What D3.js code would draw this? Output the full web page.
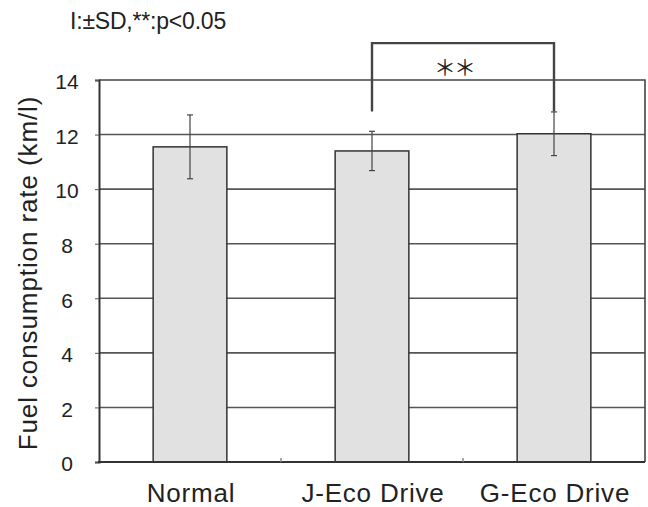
<!DOCTYPE html>
<html>
<head>
<meta charset="utf-8">
<script src="https://cdn.jsdelivr.net/npm/d3@7"></script>
<style>
  body { margin: 0; background: #fff; }
  text { font-family: "Liberation Sans", Arial, sans-serif; fill: #222; }
</style>
</head>
<body>
<div id="chart"></div>
<script>
// Data
const categories = ["Normal", "J-Eco Drive", "G-Eco Drive"];
const means = [11.55, 11.4, 12.03];
const sds = [1.17, 0.72, 0.8];
const yTicks = [0, 2, 4, 6, 8, 10, 12, 14];
const sigPair = ["J-Eco Drive", "G-Eco Drive"];
const sigLabel = "＊＊";
const sigTop = 15.35;   // bracket height in km/l units
const sigEnd = 12.85;   // where the bracket legs stop
const noteText = "I:±SD,**:p<0.05";
const yTitle = "Fuel consumption rate (km/l)";

const width = 648;
const height = 507;
const margin = {top: 80, left: 99, right: 3, bottom: 45};

const svg = d3.select("#chart")
  .append("svg")
    .attr("width", width)
    .attr("height", height);

// Scales
const xScale = d3.scaleBand()
  .domain(categories)
  .range([margin.left, width - margin.right])
  .padding(0);
const yScale = d3.scaleLinear()
  .domain([0, 14])
  .range([height - margin.bottom, margin.top]);

const barWidth = xScale.bandwidth() * 0.405;
const x0 = margin.left, x1 = width - margin.right;

// Grid lines (behind bars)
svg.append("g")
  .selectAll("line")
  .data(yTicks.filter(t => t > 0 && t < 14))
  .join("line")
    .attr("x1", x0)
    .attr("x2", x1)
    .attr("y1", d => yScale(d))
    .attr("y2", d => yScale(d))
    .attr("stroke", "#555")
    .attr("stroke-width", 1.6);

// Frame: top + right
svg.append("path")
  .attr("d", `M${x0},${yScale(14)}H${x1}V${yScale(0)}`)
  .attr("fill", "none")
  .attr("stroke", "#444")
  .attr("stroke-width", 1.6);

// Bars
const data = categories.map((c, i) => ({cat: c, mean: means[i], sd: sds[i]}));
svg.append("g")
  .selectAll("rect")
  .data(data)
  .join("rect")
    .attr("x", d => xScale(d.cat) + xScale.bandwidth() / 2 - barWidth / 2)
    .attr("y", d => yScale(d.mean))
    .attr("width", barWidth)
    .attr("height", d => yScale(0) - yScale(d.mean))
    .attr("fill", "#e1e1e1")
    .attr("stroke", "#333")
    .attr("stroke-width", 1.5);

// Error bars
const err = svg.append("g")
  .attr("stroke", "#444")
  .attr("stroke-width", 1.2);
data.forEach(d => {
  const cx = xScale(d.cat) + xScale.bandwidth() / 2;
  err.append("line")
    .attr("x1", cx).attr("x2", cx)
    .attr("y1", yScale(d.mean + d.sd))
    .attr("y2", yScale(d.mean - d.sd));
  [d.mean + d.sd, d.mean - d.sd].forEach(v => {
    err.append("line")
      .attr("x1", cx - 3).attr("x2", cx + 3)
      .attr("y1", yScale(v)).attr("y2", yScale(v));
  });
});

// Axes: left and bottom
const leftAxis = d3.axisLeft(yScale)
  .tickValues(yTicks)
  .tickSize(4)
  .tickPadding(28);
svg.append("g")
  .attr("class", "axis-y")
  .attr("transform", `translate(${x0},0)`)
  .call(leftAxis)
  .call(g => g.select(".domain").attr("stroke", "#333").attr("stroke-width", 2))
  .call(g => g.selectAll(".tick line").attr("stroke", "#555"))
  .call(g => g.selectAll(".tick text")
    .attr("text-anchor", "middle")
    .attr("dy", "0.42em")
    .style("font-size", "21px")
    .attr("fill", "#222"));

svg.append("line")
  .attr("x1", x0 - 1).attr("x2", x1)
  .attr("y1", yScale(0)).attr("y2", yScale(0))
  .attr("stroke", "#333")
  .attr("stroke-width", 2);

// Small category-boundary ticks
svg.append("g")
  .selectAll("line")
  .data(categories.slice(1))
  .join("line")
    .attr("x1", d => xScale(d))
    .attr("x2", d => xScale(d))
    .attr("y1", yScale(0))
    .attr("y2", yScale(0) - 4)
    .attr("stroke", "#888")
    .attr("stroke-width", 1.5);

// Category labels
svg.append("g")
  .selectAll("text")
  .data(categories)
  .join("text")
    .attr("x", d => xScale(d) + xScale.bandwidth() / 2 + 1)
    .attr("y", 502)
    .attr("text-anchor", "middle")
    .style("font-size", "26px")
    .style("letter-spacing", "0.8px")
    .text(d => d);

// Y axis title
svg.append("text")
  .attr("transform", `translate(37,${(yScale(0) + yScale(14)) / 2 + 2}) rotate(-90)`)
  .attr("text-anchor", "middle")
  .style("font-size", "26px")
  .style("letter-spacing", "0.9px")
  .text(yTitle);

// Note at the top
svg.append("text")
  .attr("x", 70)
  .attr("y", 29)
  .style("font-size", "23px")
  .style("letter-spacing", "-0.2px")
  .text(noteText);

// Significance bracket
const sx1 = xScale(sigPair[0]) + xScale.bandwidth() / 2;
const sx2 = xScale(sigPair[1]) + xScale.bandwidth() / 2;
svg.append("path")
  .attr("d", `M${sx1},${yScale(sigEnd)}V${yScale(sigTop)}H${sx2}V${yScale(sigEnd)}`)
  .attr("fill", "none")
  .attr("stroke", "#444")
  .attr("stroke-width", 2.4);
svg.append("text")
  .attr("x", (sx1 + sx2) / 2 - 9)
  .attr("y", 75)
  .attr("text-anchor", "middle")
  .style("font-family", "'Noto Sans CJK JP', sans-serif")
  .style("font-size", "22px")
  .style("letter-spacing", "-2px")
  .attr("fill", "#333")
  .text(sigLabel);
</script>
</body>
</html>
